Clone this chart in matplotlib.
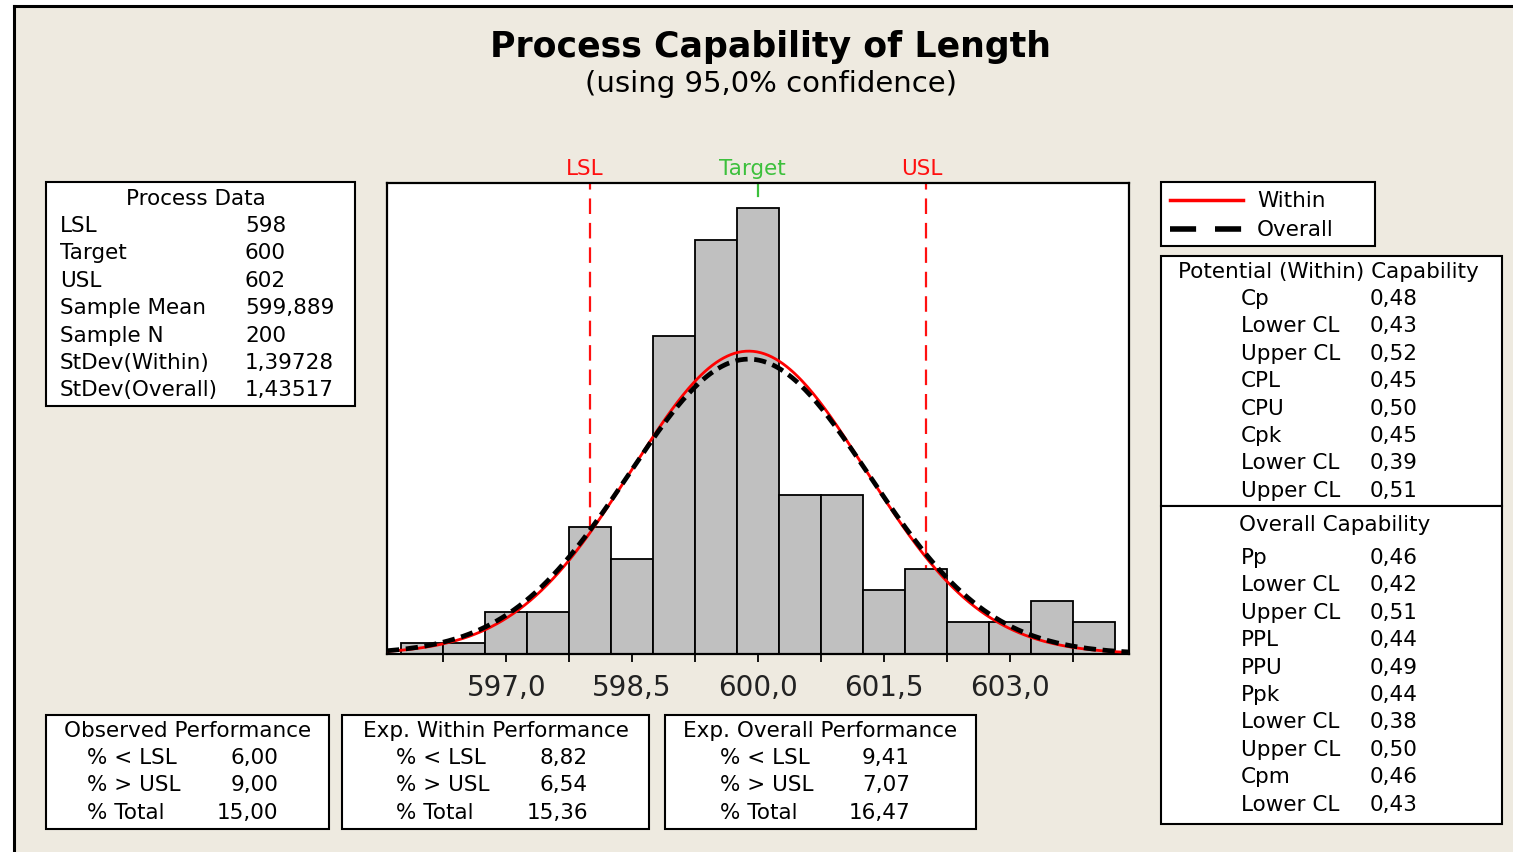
import numpy as np
import matplotlib
matplotlib.use("Agg")
import matplotlib.pyplot as plt
from matplotlib.patches import Rectangle
from matplotlib.lines import Line2D

plt.rcParams['font.family'] = ['DejaVu Sans']

# datos del histograma (conteos, bins de 0,5)
bin_edges = [595.75, 596.25, 596.75, 597.25, 597.75, 598.25, 598.75, 599.25, 599.75,
             600.25, 600.75, 601.25, 601.75, 602.25, 602.75, 603.25, 603.75, 604.25]
counts = [1, 1, 4, 4, 12, 9, 30, 39, 42, 15, 15, 6, 8, 3, 3, 5, 3]

lsl, target, usl = 598, 600, 602
mean = 599.889
n = 200
sd_within = 1.39728
sd_overall = 1.43517

major_ticks = [597.0, 598.5, 600.0, 601.5, 603.0]
major_labels = ["597,0", "598,5", "600,0", "601,5", "603,0"]
minor_ticks = [596.25, 597.75, 599.25, 600.75, 602.25, 603.75]

process_labels = ["LSL", "Target", "USL", "Sample Mean", "Sample N", "StDev(Within)", "StDev(Overall)"]
process_values = ["598", "600", "602", "599,889", "200", "1,39728", "1,43517"]

within_labels = ["Cp", "Lower CL", "Upper CL", "CPL", "CPU", "Cpk", "Lower CL", "Upper CL"]
within_values = ["0,48", "0,43", "0,52", "0,45", "0,50", "0,45", "0,39", "0,51"]

overall_labels = ["Pp", "Lower CL", "Upper CL", "PPL", "PPU", "Ppk", "Lower CL", "Upper CL", "Cpm", "Lower CL"]
overall_values = ["0,46", "0,42", "0,51", "0,44", "0,49", "0,44", "0,38", "0,50", "0,46", "0,43"]

perf_labels = ["% < LSL", "% > USL", "% Total"]
observed_values = ["6,00", "9,00", "15,00"]
exp_within_values = ["8,82", "6,54", "15,36"]
exp_overall_values = ["9,41", "7,07", "16,47"]

W, H = 1513, 853
BG = "#EEEAE0"
FS = 15.5

fig = plt.figure(figsize=(W / 100, H / 100), dpi=100)
fig.patch.set_facecolor("white")


def fx(x):
    return x / W


def fy(y):
    return 1 - y / H


def box(x0, y0, x1, y1):
    fig.patches.append(Rectangle((fx(x0), fy(y1)), fx(x1) - fx(x0), fy(y0) - fy(y1),
                                 transform=fig.transFigure, facecolor="white",
                                 edgecolor="black", lw=1.5, zorder=1))


def txt(x, y, s, ha="left", **kw):
    fig.text(fx(x), fy(y), s, ha=ha, va="center", fontsize=kw.pop("fontsize", FS), zorder=3, **kw)


# fondo beige con borde
fig.patches.append(Rectangle((fx(14), 0), 1 - fx(14), fy(7), transform=fig.transFigure,
                             facecolor=BG, edgecolor="none", zorder=-10))
fig.lines.append(Line2D([fx(14), fx(14)], [0, fy(7)], transform=fig.transFigure, color="black", lw=2.2))
fig.lines.append(Line2D([fx(14), 1], [fy(7), fy(7)], transform=fig.transFigure, color="black", lw=2.2))

# titulo
txt(770, 47, "Process Capability of Length", ha="center", fontsize=25, fontweight="bold")
txt(771, 84, "(using 95,0% confidence)", ha="center", fontsize=21)

# histograma
ax = fig.add_axes([fx(387), fy(655), fx(1129) - fx(387), fy(184) - fy(655)])
ax.set_zorder(2)
ax.set_facecolor("white")
ax.set_xlim(595.58, 604.42)
ax.set_ylim(0, 44.4)

ax.axvline(lsl, color="#FF1010", lw=1.6, dashes=(7, 4), zorder=1)
ax.axvline(usl, color="#FF1010", lw=1.6, dashes=(7, 4), zorder=1)
ax.axvline(target, ymin=0.972, ymax=1, color="#3CC03C", lw=1.6, zorder=1)

widths = np.diff(bin_edges)
ax.bar(bin_edges[:-1], counts, width=widths, align="edge", color="#C0C0C0",
       edgecolor="black", lw=1.3, zorder=2)

xs = np.linspace(595.58, 604.42, 400)
scale = n * 0.5
pdf_w = scale * np.exp(-0.5 * ((xs - mean) / sd_within) ** 2) / (sd_within * np.sqrt(2 * np.pi))
pdf_o = scale * np.exp(-0.5 * ((xs - mean) / sd_overall) ** 2) / (sd_overall * np.sqrt(2 * np.pi))
ax.plot(xs, pdf_w, color="#FF0000", lw=2, zorder=3)
ax.plot(xs, pdf_o, color="black", lw=3.4, dashes=(2.6, 1.4), zorder=4)

ax.set_xticks(major_ticks)
ax.set_xticklabels(major_labels, fontsize=20, color="#222222")
ax.set_xticks(minor_ticks, minor=True)
ax.tick_params(axis="x", which="both", direction="out", length=6, width=1.3, pad=8)
ax.set_yticks([])
for sp in ax.spines.values():
    sp.set_linewidth(1.6)

ax.text(lsl - 0.07, 1.01, "LSL", transform=ax.get_xaxis_transform(), ha="center", va="bottom",
        color="#FF1010", fontsize=15.5)
ax.text(target - 0.07, 1.01, "Target", transform=ax.get_xaxis_transform(), ha="center", va="bottom",
        color="#3CC03C", fontsize=15.5)
ax.text(usl - 0.05, 1.01, "USL", transform=ax.get_xaxis_transform(), ha="center", va="bottom",
        color="#FF1010", fontsize=15.5)

# Process Data
box(46, 183, 355, 407)
txt(196, 199, "Process Data", ha="center")
for i, (lab, val) in enumerate(zip(process_labels, process_values)):
    y = 226 + i * 27.4
    txt(60, y, lab)
    txt(245, y, val)

# leyenda
box(1161, 183, 1375, 247)
fig.lines.append(Line2D([fx(1170), fx(1243)], [fy(201), fy(201)], transform=fig.transFigure,
                        color="#FF0000", lw=2.5))
fig.lines.append(Line2D([fx(1170), fx(1243)], [fy(230), fy(230)], transform=fig.transFigure,
                        color="black", lw=4, dashes=(4.7, 3.4)))
txt(1257, 201, "Within")
txt(1257, 230, "Overall")

# capacidad
box(1161, 257, 1502, 507)
box(1161, 507, 1502, 825)
txt(1328, 272, "Potential (Within) Capability", ha="center")
for i, (lab, val) in enumerate(zip(within_labels, within_values)):
    y = 299 + i * 27.4
    txt(1241, y, lab)
    txt(1370, y, val)
txt(1335, 525, "Overall Capability", ha="center")
for i, (lab, val) in enumerate(zip(overall_labels, overall_values)):
    y = 558 + i * 27.4
    txt(1241, y, lab)
    txt(1370, y, val)

# rendimiento
perf_boxes = [
    (46, 329, "Observed Performance", 87, 278, observed_values),
    (342, 649, "Exp. Within Performance", 396, 588, exp_within_values),
    (665, 976, "Exp. Overall Performance", 720, 910, exp_overall_values),
]
for x0, x1, title, xl, xr, vals in perf_boxes:
    box(x0, 716, x1, 830)
    txt((x0 + x1) / 2, 731, title, ha="center")
    for i, (lab, val) in enumerate(zip(perf_labels, vals)):
        y = 758 + i * 27.5
        txt(xl, y, lab)
        txt(xr, y, val, ha="right")

fig.savefig("out.png", dpi=100, facecolor=fig.get_facecolor())
